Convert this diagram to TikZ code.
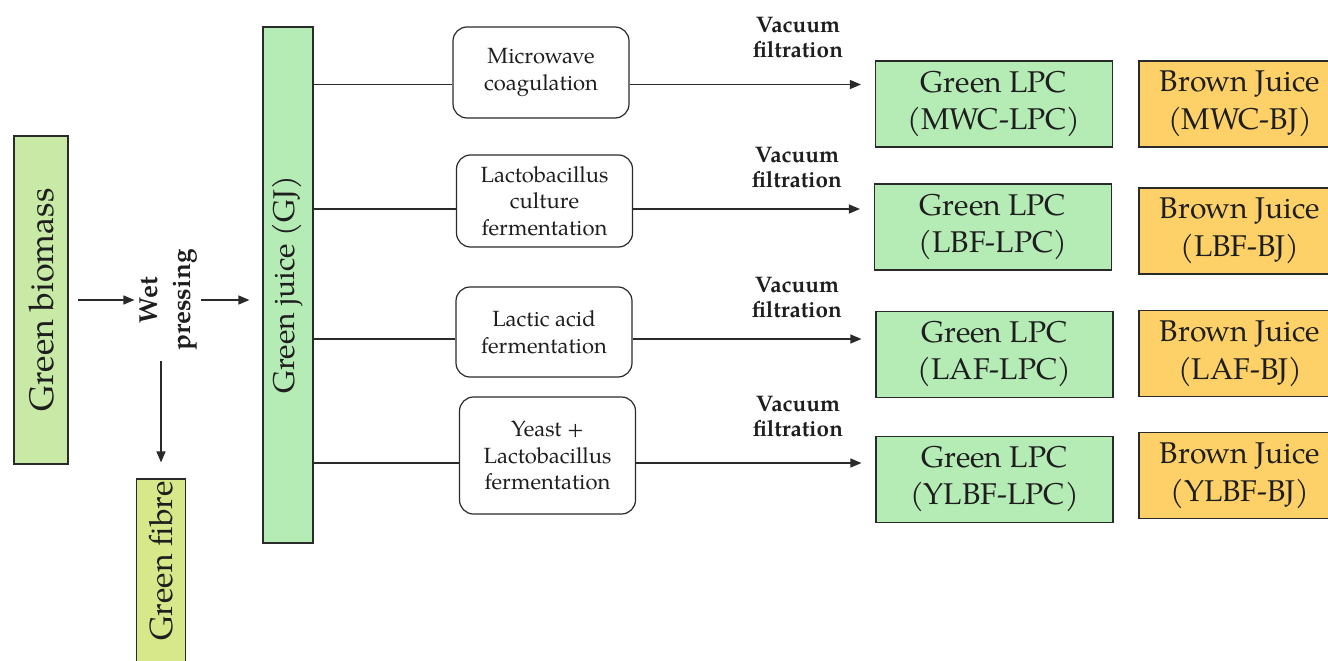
\documentclass[tikz,border=0pt]{standalone}
\usepackage{fontspec}
\setmainfont{texgyrepagella}[Extension=.otf, UprightFont=*-regular, BoldFont=*-bold]
\usetikzlibrary{arrows.meta,calc}
\definecolor{bioC}{HTML}{C9EAA6}
\definecolor{fibC}{HTML}{D6E88A}
\definecolor{gjC}{HTML}{B5EBB5}
\definecolor{bjC}{HTML}{FDD168}
\definecolor{lnC}{HTML}{2A2A2A}
\definecolor{txC}{HTML}{1E1E1E}
\begin{document}
\begin{tikzpicture}[x=1pt,y=-1pt,
  every node/.style={text=txC},
  ln/.style={draw=lnC, line width=1.3pt},
  arr/.style={ln, -{Triangle[length=11pt,width=9pt]}},
  vbox/.style={draw=lnC, line width=1.2pt, rotate=90, inner sep=0pt},
  procbox/.style={draw=lnC, line width=1.2pt, rounded corners=14pt, align=center,
    inner sep=0pt, minimum width=176pt, font=\fontsize{22}{26.5}\selectfont},
  lpcbox/.style={draw=lnC, line width=1.2pt, fill=gjC, align=center, inner sep=0pt,
    minimum width=237pt, minimum height=86pt, font=\fontsize{30}{37}\selectfont},
  bjbox/.style={draw=lnC, line width=1.2pt, fill=bjC, align=center, inner sep=0pt,
    minimum width=202pt, minimum height=86pt, font=\fontsize{30}{38}\selectfont},
  vf/.style={align=center, inner sep=0pt, font=\bfseries\fontsize{22.5}{25}\selectfont}
]
\useasboundingbox (0,0) rectangle (1328,661);
\fill[white] (0,0) rectangle (1328,661);
\clip (0,0) rectangle (1328,661);

% left part
\node[vbox, fill=bioC, minimum width=328pt, minimum height=54pt,
  font=\fontsize{34}{40}\selectfont] (bio) at (41,300) {Green biomass};
\node[rotate=90, align=center, inner sep=0pt,
  font=\bfseries\fontsize{26}{33}\selectfont] (wp) at (168.5,300) {Wet\\pressing};
\node[vbox, fill=fibC, minimum width=220pt, minimum height=49pt] (fibre) at (161,589) {};
\node[rotate=90, inner sep=0pt, font=\fontsize{32}{38}\selectfont] (fibretxt) at (161,561) {Green fibre};
\node[vbox, fill=gjC, minimum width=516pt, minimum height=50pt,
  font=\fontsize{30}{36}\selectfont] (gj) at (288,285) {Green juice (GJ)};

\draw[arr, shorten <=9pt, shorten >=5pt] (bio.south |- wp.north) -- (wp.north);
\draw[arr, shorten <=3pt, shorten >=13pt] (wp.south) -- (gj.north |- wp.south);
\draw[arr, shorten <=10pt, shorten >=16pt] (fibre.east |- wp.west) -- (fibre.east);

% process boxes
\node[procbox, minimum height=91pt] (mw) at (541,72.5) {Microwave\\coagulation};
\node[procbox, minimum height=92pt] (lb) at (544.5,201) {Lactobacillus\\culture\\fermentation};
\node[procbox, minimum height=90pt] (la) at (544,332) {Lactic acid\\fermentation};
\node[procbox, minimum height=117pt] (yl) at (547.5,455.5) {Yeast +\\Lactobacillus\\fermentation};

% products
\node[lpcbox] (l1) at (994,104) {Green LPC\\(MWC-LPC)};
\node[lpcbox] (l2) at (993,227) {Green LPC\\(LBF-LPC)};
\node[lpcbox] (l3) at (994.5,354.5) {Green LPC\\(LAF-LPC)};
\node[lpcbox] (l4) at (994.5,479.5) {Green LPC\\(YLBF-LPC)};

\node[bjbox] (b1) at (1240,104) {Brown Juice\\(MWC-BJ)};
\node[bjbox] (b2) at (1240,231) {Brown Juice\\(LBF-BJ)};
\node[bjbox] (b3) at (1240,353.5) {Brown Juice\\(LAF-BJ)};
\node[bjbox] (b4) at (1240,475.5) {Brown Juice\\(YLBF-BJ)};

% vacuum filtration labels
\node[vf] (vf1) at (798,38) {Vacuum\\filtration};
\node[vf] (vf2) at (797,168) {Vacuum\\filtration};
\node[vf] (vf3) at (797,298) {Vacuum\\filtration};
\node[vf] (vf4) at (798,417) {Vacuum\\filtration};

% row connectors
\coordinate (r1) at ($(mw.west)+(0,12)$);
\coordinate (r2) at ($(lb.west)+(0,8)$);
\coordinate (r3) at ($(la.west)+(0,7)$);
\coordinate (r4) at ($(yl.west)+(0,7.5)$);
\foreach \r/\p/\l in {r1/mw/l1, r2/lb/l2, r3/la/l3, r4/yl/l4}{
  \draw[ln] (gj.south |- \r) -- (\r);
  \draw[arr, shorten >=14pt] (\p.east |- \r) -- (\l.west |- \r);
}
\end{tikzpicture}
\end{document}
